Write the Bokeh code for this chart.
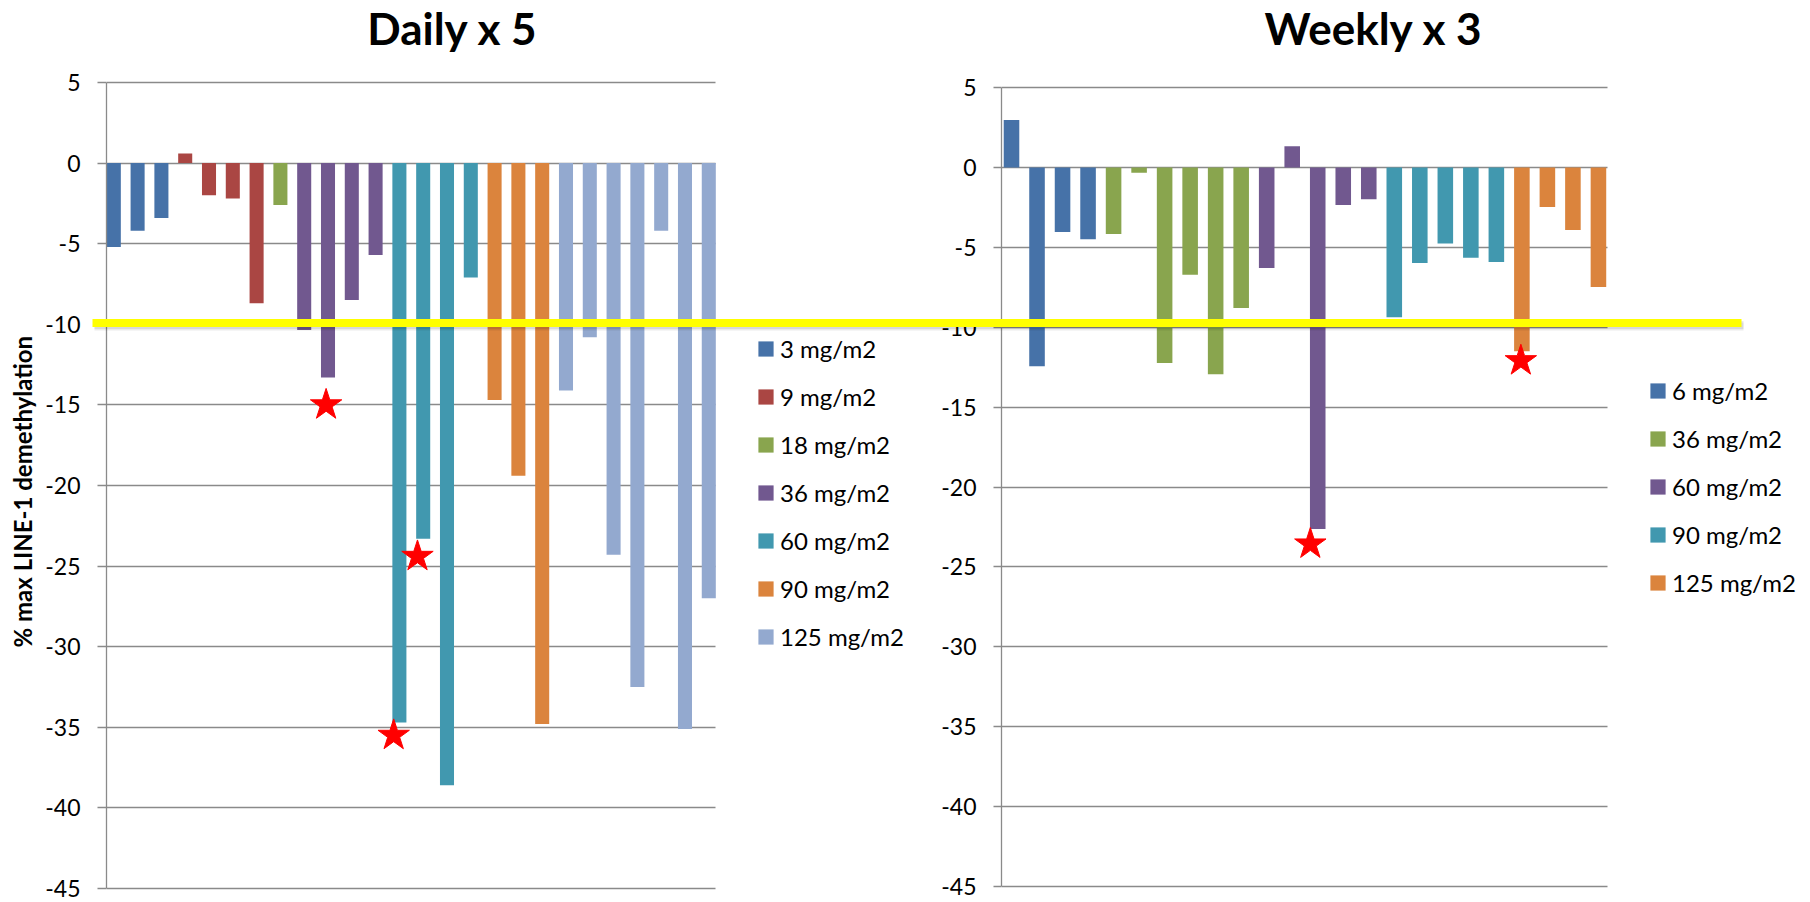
from bokeh.plotting import figure
from bokeh.models import Range1d, FixedTicker, Legend, LegendItem, Label, Grid, GridBox, Title
from bokeh.embed import file_html
from bokeh.resources import INLINE

# ---- Daily x 5 schedule: % max LINE-1 demethylation per patient, grouped by dose ----
daily_doses = ["3 mg/m2", "9 mg/m2", "18 mg/m2", "36 mg/m2", "60 mg/m2", "90 mg/m2", "125 mg/m2"]
daily_3 = [-5.2, -4.2, -3.4]
daily_9 = [0.6, -2.0, -2.2, -8.7]
daily_18 = [-2.6]
daily_36 = [-10.35, -13.3, -8.5, -5.7]
daily_60 = [-34.7, -23.3, -38.6, -7.1]
daily_90 = [-14.7, -19.4, -34.8]
daily_125 = [-14.1, -10.8, -24.3, -32.5, -4.2, -35.1, -27.0]
daily_colors = ["#4672A8", "#AA4643", "#89A54E", "#71588F", "#4198AF", "#DB843D", "#93A9CF"]
# starred responders (bar slot, value)
daily_star_x = [8.92, 12.76, 11.76]
daily_star_y = [-15.0, -24.4, -35.5]

# ---- Weekly x 3 schedule ----
weekly_doses = ["6 mg/m2", "36 mg/m2", "60 mg/m2", "90 mg/m2", "125 mg/m2"]
weekly_6 = [2.96, -12.45, -4.05, -4.5]
weekly_36 = [-4.17, -0.33, -12.24, -6.72, -12.95, -8.8]
weekly_60 = [-6.3, 1.33, -22.63, -2.36, -2.0]
weekly_90 = [-9.37, -5.99, -4.76, -5.65, -5.92]
weekly_125 = [-11.51, -2.48, -3.92, -7.49]
weekly_colors = ["#4672A8", "#89A54E", "#71588F", "#4198AF", "#DB843D"]
weekly_star_x = [11.71, 19.96]
weekly_star_y = [-23.57, -12.1]

y_ticks = [5, 0, -5, -10, -15, -20, -25, -30, -35, -40, -45]
y_label = "% max LINE-1 demethylation"

FONT = "Lato"
GRID = "#8A8A8A"
H = 902
W1 = 922
W2 = 1810 - W1

LEG_ITEM_H = 30
LEG_SPACING = 18


def make_panel(title, groups, labels, colors, star_x, star_y, *, width, left,
               x_range, y_range, bar_end, bar_width, title_x, title_y,
               legend_x, legend_first, tick_out, ylabel=None):
    p = figure(width=width, height=H, x_range=Range1d(*x_range), y_range=Range1d(*y_range),
               x_axis_location=None, output_backend="svg", toolbar_location=None,
               min_border_left=left, min_border_right=0,
               min_border_top=0, min_border_bottom=0)
    p.outline_line_color = None
    p.background_fill_color = "white"
    p.border_fill_color = "white"

    ax = p.yaxis[0]
    ax.ticker = FixedTicker(ticks=y_ticks)
    ax.bounds = (min(y_ticks), max(y_ticks))
    ax.major_label_overrides = {t: str(t) for t in y_ticks}
    ax.minor_tick_line_color = None
    ax.major_tick_in = 0
    ax.major_tick_out = tick_out
    ax.axis_line_color = GRID
    ax.axis_line_width = 1.3
    ax.major_tick_line_color = GRID
    ax.major_tick_line_width = 1.3
    ax.major_label_text_font = FONT
    ax.major_label_text_font_size = "23px"
    ax.major_label_text_color = "black"
    ax.major_label_standoff = 17
    if ylabel:
        # vertical axis title, anchored so it sits level with the tick span
        p.add_layout(Title(text=ylabel, align="left", vertical_align="top", offset=255,
                           standoff=8, text_font=FONT, text_font_size="24px",
                           text_font_style="bold", text_color="black"), "left")

    p.xgrid.visible = False
    p.ygrid.ticker = FixedTicker(ticks=y_ticks)
    p.ygrid.grid_line_color = GRID
    p.ygrid.grid_line_width = 1.3
    if "cross_bounds" in Grid.properties():
        p.ygrid.cross_bounds = (x_range[0], bar_end)
    else:
        p.ygrid.visible = False
        p.segment(x0=[x_range[0]] * len(y_ticks), x1=[bar_end] * len(y_ticks),
                  y0=y_ticks, y1=y_ticks, line_color=GRID, line_width=1.3, level="underlay")

    items = []
    k = 0
    for vals, lab, col in zip(groups, labels, colors):
        xs = list(range(k, k + len(vals)))
        k += len(vals)
        r = p.vbar(x=xs, top=vals, bottom=0, width=bar_width,
                   fill_color=col, line_color=None)
        items.append(LegendItem(label=lab, renderers=[r]))

    p.scatter(x=star_x, y=star_y, marker="star", size=33,
              fill_color="#FF0000", line_color="#FF0000")

    p.add_layout(Label(x=title_x, y=title_y, text=title, text_align="center",
                       text_baseline="middle", text_font=FONT, text_font_size="44px",
                       text_font_style="bold", text_color="black"))

    n = len(items)
    leg_top = legend_first - LEG_ITEM_H / 2
    leg_bottom = leg_top + n * LEG_ITEM_H + (n - 1) * LEG_SPACING
    legend = Legend(items=items, location=(legend_x, round(H - leg_bottom)),
                    glyph_width=19, glyph_height=19, label_height=LEG_ITEM_H,
                    label_standoff=5, spacing=LEG_SPACING, padding=0, margin=0,
                    label_text_font=FONT, label_text_font_size="24px",
                    label_text_color="black",
                    border_line_color=None, background_fill_alpha=0)
    p.add_layout(legend)
    return p


daily = make_panel("Daily x 5",
                   [daily_3, daily_9, daily_18, daily_36, daily_60, daily_90, daily_125],
                   daily_doses, daily_colors, daily_star_x, daily_star_y,
                   width=W1, left=106,
                   x_range=(-0.307, 33.98), y_range=(-45.868, 10.087),
                   bar_end=25.28, bar_width=0.59, title_x=14.23, title_y=8.41,
                   legend_x=650, legend_first=348, tick_out=9, ylabel=y_label)

weekly = make_panel("Weekly x 3",
                    [weekly_6, weekly_36, weekly_60, weekly_90, weekly_125],
                    weekly_doses, weekly_colors, weekly_star_x, weekly_star_y,
                    width=W2, left=1001 - W1,
                    x_range=(-0.392, 31.31), y_range=(-46.0, 10.444),
                    bar_end=23.35, bar_width=0.61, title_x=14.19, title_y=8.75,
                    legend_x=647, legend_first=390, tick_out=8)

# transparent layer over both panels carrying the -10 % threshold band
overlay = figure(width=1810, height=H, y_range=Range1d(H, 0),
                 x_axis_location=None, y_axis_location=None,
                 output_backend="svg", toolbar_location=None, min_border=0)
if "frame_align" in overlay.properties():
    overlay.frame_align = False
    overlay.x_range = Range1d(0, 1810)
else:
    overlay.x_range = Range1d(106, 1810)
overlay.outline_line_color = None
overlay.background_fill_alpha = 0
overlay.border_fill_alpha = 0
overlay.grid.visible = False
band_left, band_right, band_top, band_bottom = 92, 1741, 318.5, 326.5
for dy, a in [(2.0, 0.08), (3.5, 0.08)]:
    overlay.quad(left=[band_left + 2], right=[band_right + 2], top=[band_top + dy],
                 bottom=[band_bottom + dy], fill_color="black", fill_alpha=a, line_color=None)
overlay.quad(left=[band_left], right=[band_right], top=[band_top], bottom=[band_bottom],
             fill_color="#FFFF00", line_color=None)

layout = GridBox(children=[(daily, 0, 0), (weekly, 0, 1), (overlay, 0, 0, 1, 2)])
open("out.html", "w").write(file_html(layout, INLINE))
